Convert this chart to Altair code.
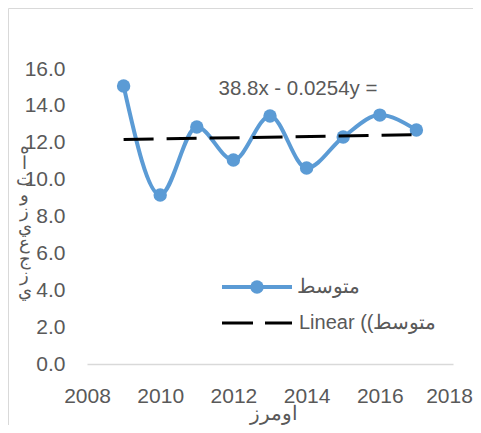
import altair as alt
import pandas as pd

years = [2009, 2010, 2011, 2012, 2013, 2014, 2015, 2016, 2017]
values = [15.08, 9.17, 12.85, 11.06, 13.45, 10.63, 12.31, 13.50, 12.69]
y_ticks = [0, 2, 4, 6, 8, 10, 12, 14, 16]
x_ticks = [2008, 2010, 2012, 2014, 2016, 2018]
series_name = "متوسط"
trend_name = "Linear ((متوسط"
equation = "38.8x - 0.0254y ="
y_title_chars = ["ه", "ا", "ت", "و", "ز", "ي", "ع", "ج", "ز", "ي"]
x_title = "اومرز"

BLUE = "#5B9BD5"
GRAY = "#595959"
FONT = "Liberation Sans"

df = pd.DataFrame({"year": years, "value": values})
one = alt.Data(values=[{}])

x_enc = alt.X(
    "year:Q",
    scale=alt.Scale(domain=[2008, 2018], nice=False, zero=False),
    axis=alt.Axis(
        values=x_ticks, format="d", title=x_title, grid=False, ticks=False,
        labelPadding=21, labelFontSize=21, labelColor=GRAY, labelFont=FONT,
        labelOverlap=False, labelFlush=False,
        labelOffset=alt.ExprRef("datum.value == 2018 ? -4 : 0"),
        domainColor="#d9d9d9", domainWidth=1.5,
        titleX=186, titleY=55, titleBaseline="alphabetic", titleAlign="center",
        titleFontSize=20, titleFontWeight="normal", titleColor=GRAY, titleFont=FONT,
    ),
)
y_enc = alt.Y(
    "value:Q",
    scale=alt.Scale(domain=[0, 16], nice=False),
    axis=alt.Axis(
        values=y_ticks, format=".1f", title=y_title_chars, grid=False, ticks=False,
        domain=False, labelPadding=22, labelFontSize=21, labelColor=GRAY, labelFont=FONT,
        labelOverlap=False, labelFlush=False,
        titleAngle=0, titleX=-63, titleY=69, titleBaseline="top", titleAlign="center",
        titleLineHeight=16, titleFontSize=18, titleFontWeight="normal", titleColor=GRAY,
        titleFont=FONT,
    ),
)

base = alt.Chart(df)

line = base.mark_line(color=BLUE, strokeWidth=4, interpolate="monotone").encode(x=x_enc, y=y_enc)
points = base.mark_point(filled=True, color=BLUE, size=180, opacity=1).encode(x=x_enc, y=y_enc)
trend = base.transform_regression("year", "value").mark_line(
    color="black", strokeWidth=3, strokeDash=[30, 13]
).encode(x=x_enc, y=y_enc)

eq_text = alt.Chart(one).mark_text(
    fontSize=20.5, font=FONT, color=GRAY, align="center", baseline="middle"
).encode(x=alt.value(211), y=alt.value(20), text=alt.value(equation))

leg_line1 = alt.Chart(one).mark_rule(color=BLUE, strokeWidth=4).encode(
    x=alt.value(135), x2=alt.value(205), y=alt.value(218))
leg_pt1 = alt.Chart(one).mark_point(filled=True, color=BLUE, size=180, opacity=1).encode(
    x=alt.value(170), y=alt.value(218))
leg_txt1 = alt.Chart(one).mark_text(fontSize=20, font=FONT, color=GRAY, align="left", baseline="middle").encode(
    x=alt.value(210), y=alt.value(218), text=alt.value(series_name))
leg_line2 = alt.Chart(one).mark_rule(color="black", strokeWidth=3, strokeDash=[31, 12]).encode(
    x=alt.value(135), x2=alt.value(205), y=alt.value(254))
leg_txt2 = alt.Chart(one).mark_text(fontSize=20, font=FONT, color=GRAY, align="left", baseline="middle").encode(
    x=alt.value(212), y=alt.value(254), text=alt.value(trend_name))

border_left = alt.Chart(one).mark_rule(color="#d9d9d9", strokeWidth=1).encode(
    x=alt.value(-78.5), y=alt.value(-60.5), y2=alt.value(420))
border_top = alt.Chart(one).mark_rule(color="#d9d9d9", strokeWidth=1).encode(
    x=alt.value(-78.5), x2=alt.value(400), y=alt.value(-60.5))

chart = alt.layer(
    border_left, border_top, line, points, trend, eq_text,
    leg_line1, leg_pt1, leg_txt1, leg_line2, leg_txt2,
).properties(
    width=366, height=295,
    autosize=alt.AutoSizeParams(type="none"),
    padding={"left": 79, "top": 61, "right": 20, "bottom": 61},
).configure_view(stroke=None).configure_axis(labelOverlap=False)

chart.save("out.html", embed_options={"renderer": "svg", "actions": False})
